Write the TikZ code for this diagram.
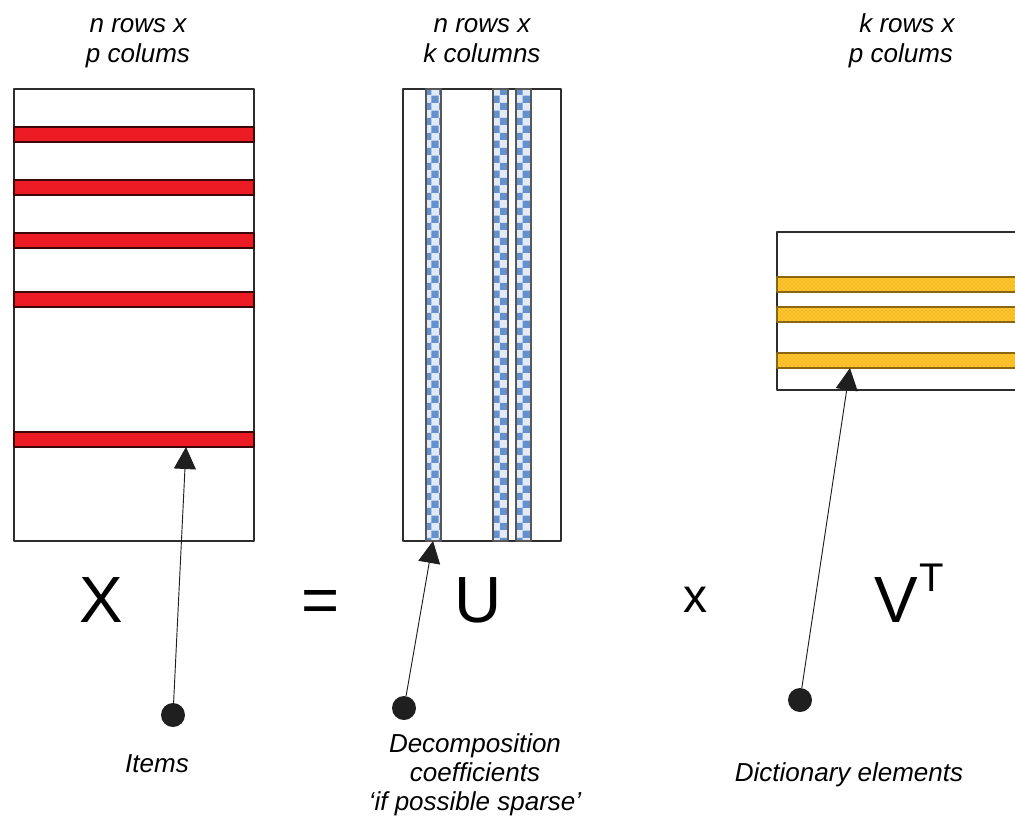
\documentclass[tikz,border=0pt]{standalone}
\usepackage{fontspec}
\setmainfont{Liberation Sans}
\usetikzlibrary{patterns,arrows.meta}
\definecolor{barred}{RGB}{237,28,36}
\definecolor{colblue}{RGB}{100,145,205}
\definecolor{colpale}{RGB}{225,234,246}
\definecolor{rowgold}{RGB}{250,186,28}
\definecolor{rowpale}{RGB}{255,236,160}
\definecolor{edge}{RGB}{45,45,45}
\begin{document}
\begin{tikzpicture}[x=0.75pt,y=-0.75pt,>={Triangle[length=16.5pt,width=16.5pt]}, line join=round,
    font=\fontsize{19.5}{24}\selectfont\itshape]
    \tikzset{every node/.style={inner sep=0pt,anchor=base},
      matbox/.style={draw=edge,line width=1pt,fill=white},
      redbar/.style={draw=black!75!barred,line width=0.8pt,fill=barred},
      bluecol/.style={draw=edge!80,line width=0.8pt,preaction={fill=colpale},pattern=checkerboard,pattern color=colblue},
      goldrow/.style={draw=black!45!rowgold,line width=0.8pt,preaction={fill=rowgold},pattern=crosshatch dots,pattern color=rowpale},
      dot/.style={circle,fill=black!88,minimum size=18pt,anchor=center},
      pointer/.style={->,line width=0.7pt,black!88},
      big/.style={font=\fontsize{49}{50}\selectfont}}
    \clip (0,0) rectangle (1015,818);
    % matrix X
    \draw[matbox] (14,89) rectangle (254,541);
    \foreach \y in {127,180,233,292,432}
      \draw[redbar] (14,\y) rectangle (254,\y+15);
    % matrix U
    \draw[matbox] (403,89) rectangle (561,541);
    \foreach \x in {426,493,516}
      \draw[bluecol] (\x,89) rectangle (\x+15,541);
    % matrix V^T
    \draw[matbox] (777,232) rectangle (1040,390);
    \foreach \y in {277,307,353}
      \draw[goldrow] (777,\y) rectangle (1040,\y+15);
    % headings
    \node (xrows) at (138,32) {n rows x};
    \node (xcols) at (138,62) {p colums};
    \node (urows) at (482,32) {n rows x};
    \node (ucols) at (482,62) {k columns};
    \node (vrows) at (907,32) {k rows x};
    \node (vcols) at (901,62) {p colums};
    % equation
    \node[big] (xsym) at (101,622) {X};
    \node[big] (eqsym) at (321,622) {=};
    \node[big] (usym) at (478,622) {U};
    \node[font=\fontsize{36}{38}\selectfont] (timessym) at (695,612) {x};
    \node[big] (vsym) at (896,622) {V};
    \node[font=\fontsize{30}{32}\selectfont] (tsym) at (932,591) {T};
    % pointers
    \node[dot] (itemdot) at (173,715) {};
    \node[dot] (coefdot) at (404,708) {};
    \node[dot] (dictdot) at (800,700) {};
    \coordinate (itemtip) at (186,447);
    \coordinate (coeftip) at (433,541);
    \coordinate (dicttip) at (850,368);
    \draw[pointer] (itemdot) -- (itemtip);
    \draw[pointer] (coefdot) -- (coeftip);
    \draw[pointer] (dictdot) -- (dicttip);
    \node (items) at (157,772) {Items};
    \node (coef1) at (475,752) {Decomposition};
    \node (coef2) at (475,781) {coefficients};
    \node (coef3) at (475,810) {`if possible sparse'};
    \node (dict) at (849,781) {Dictionary elements};
\end{tikzpicture}
\end{document}
